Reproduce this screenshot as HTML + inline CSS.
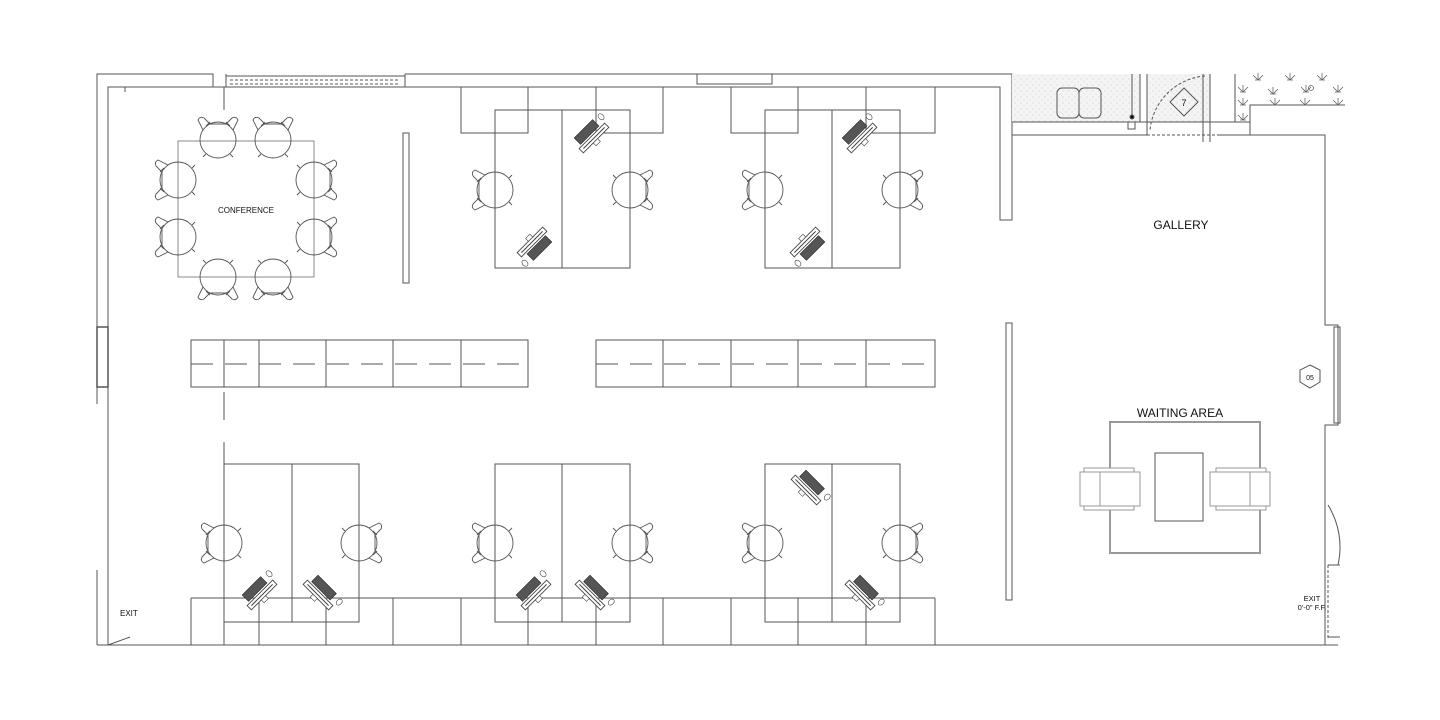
<!DOCTYPE html>
<html><head><meta charset="utf-8"><style>
html,body{margin:0;padding:0;background:#fff}
svg{display:block}
text{font-family:"Liberation Sans",sans-serif;fill:#111}
</style></head><body>
<svg width="1440" height="720" viewBox="0 0 1440 720" xmlns="http://www.w3.org/2000/svg">
<defs>
<pattern id="stip" width="6" height="6" patternUnits="userSpaceOnUse"><rect width="6" height="6" fill="#f4f4f4"/><circle cx="1" cy="1" r="0.5" fill="#bbb"/><circle cx="4" cy="4" r="0.5" fill="#ccc"/></pattern>
<g id="chair" fill="none" stroke="#555" stroke-width="0.9">
<circle cx="0" cy="0" r="18"/>
<path d="M-10,-15 L-20,-20 Q-24,-18 -22,-14 L-16,-8 L-16,8 L-22,14 Q-24,18 -20,20 L-10,15"/>
<path d="M-14,-12 l-4,4 M-14,12 l-4,-4 M14,-12 l3,-3 M14,12 l3,3"/>
</g>
<g id="comp">
<rect x="-18" y="-3" width="36" height="6" fill="#fff" stroke="#444" stroke-width="0.9"/>
<line x1="-15" y1="0" x2="15" y2="0" stroke="#444" stroke-width="1"/>
<rect x="-14" y="-14" width="26" height="9" fill="#555" stroke="#222" stroke-width="0.6"/>
<rect x="-4" y="3" width="6" height="4" fill="#fff" stroke="#444" stroke-width="0.6"/>
<ellipse cx="20" cy="-10" rx="2.5" ry="3.5" fill="#fff" stroke="#444" stroke-width="0.6"/>
</g>
<g id="sofa" fill="#fff" stroke="#999" stroke-width="1">
<rect x="0" y="0" width="60" height="34"/>
<line x1="20" y1="0" x2="20" y2="34"/>
<rect x="4" y="-4" width="50" height="4"/>
<rect x="4" y="34" width="50" height="4"/>
</g>
<path id="pl" d="M-5,-3 L0,2 L5,-3 M0,2 V-5 M-3,2 H3" fill="none" stroke="#666" stroke-width="0.8"/>
</defs>

<g fill="none" stroke="#555" stroke-width="1">
<polyline points="97,404 97,74 213,74 213,87"/>
<polyline points="108,645 108,87 1000,87 1000,220 1012,220 1012,74 405,74"/>
<line x1="226" y1="74" x2="226" y2="87"/>
<line x1="405" y1="74" x2="405" y2="87"/>
<line x1="226" y1="76" x2="405" y2="76"/>
<line x1="230" y1="80" x2="400" y2="80" stroke-dasharray="3,2"/>
<line x1="230" y1="84" x2="400" y2="84" stroke-dasharray="3,2"/>
<rect x="697" y="74" width="75" height="10"/>
<line x1="97" y1="74" x2="97" y2="404"/>
<rect x="97" y="327" width="11" height="60" stroke-width="1.5"/>
<line x1="97" y1="570" x2="97" y2="645"/>
<line x1="97" y1="645" x2="1338" y2="645"/>
<line x1="108" y1="645" x2="130" y2="637"/>
<line x1="224" y1="87" x2="224" y2="110"/>
<line x1="125" y1="87" x2="125" y2="92"/>

<rect x="1012" y="74" width="128" height="48" fill="url(#stip)" stroke="none"/>
<rect x="1147" y="74" width="63" height="48" fill="url(#stip)" stroke="none"/>
<line x1="1012" y1="122" x2="1250" y2="122"/>
<polyline points="1250,135 1250,105 1345,105"/>
<line x1="1012" y1="135" x2="1147" y2="135"/>
<line x1="1147" y1="135" x2="1218" y2="135" stroke-dasharray="3,2"/>
<line x1="1218" y1="135" x2="1250" y2="135"/>
<polyline points="1250,135 1325,135 1325,325 1338,325 1338,425 1325,425 1325,645"/>
<rect x="1334" y="327" width="6" height="96"/>
<line x1="1140" y1="74" x2="1140" y2="122"/>
<line x1="1147" y1="74" x2="1147" y2="135"/>
<line x1="1203" y1="74" x2="1203" y2="142"/>
<line x1="1210" y1="74" x2="1210" y2="142"/>
<line x1="1235" y1="74" x2="1235" y2="122"/>
<path d="M1205,76 A60,60 0 0 0 1150,130" stroke-dasharray="3,2"/>
<rect x="1057" y="88" width="22" height="30" rx="5"/>
<rect x="1079" y="88" width="22" height="30" rx="5"/>
<line x1="1132" y1="74" x2="1132" y2="118"/>
<circle cx="1132" cy="117" r="2" fill="#111"/>
<rect x="1128" y="122" width="7" height="7"/>
<polygon points="1184,88 1198,102 1184,116 1170,102"/>
<path d="M1328,505 A80,80 0 0 1 1338,565" />
<line x1="1328" y1="565" x2="1328" y2="640" stroke-dasharray="3,2"/>
<line x1="1328" y1="565" x2="1340" y2="565"/>
<line x1="1328" y1="637" x2="1340" y2="637"/>
<polygon points="1310,365 1320,370 1320,382 1310,388 1300,382 1300,370"/>
</g>
<use href="#pl" x="1258" y="78"/><use href="#pl" x="1290" y="78"/><use href="#pl" x="1322" y="78"/>
<use href="#pl" x="1243" y="90"/><use href="#pl" x="1273" y="92"/><use href="#pl" x="1306" y="90"/><use href="#pl" x="1338" y="90"/>
<use href="#pl" x="1243" y="103"/><use href="#pl" x="1275" y="103"/><use href="#pl" x="1305" y="103"/><use href="#pl" x="1338" y="103"/>
<use href="#pl" x="1243" y="118"/>
<circle cx="1311" cy="88" r="2.5" fill="none" stroke="#666" stroke-width="0.8"/>

<g fill="none" stroke="#555" stroke-width="1">
<rect x="403" y="133" width="6" height="150"/>
<rect x="1006" y="323" width="6" height="277"/>
<path d="M461,87V133H528V87 M528,110V87 M596,87V133H663V87 M731,87V133H798V87 M866,87V133H935V87"/>
<rect x="495" y="110" width="135" height="158"/><line x1="562" y1="110" x2="562" y2="268"/>
<rect x="765" y="110" width="135" height="158"/><line x1="832" y1="110" x2="832" y2="268"/>
<rect x="178" y="141" width="136" height="136" stroke="#888"/>
<rect x="191" y="340" width="337" height="47"/>
<path d="M224,340V387 M259,340V387 M326,340V387 M393,340V387 M461,340V387"/>
<rect x="596" y="340" width="339" height="47"/>
<path d="M663,340V387 M731,340V387 M798,340V387 M866,340V387"/>
<path d="M191,364H528 M596,364H935" stroke-dasharray="22,12"/>
<path d="M224,392V420 M224,442V464"/>
<rect x="224" y="464" width="135" height="158"/><line x1="292" y1="464" x2="292" y2="622"/>
<rect x="495" y="464" width="135" height="158"/><line x1="562" y1="464" x2="562" y2="622"/>
<rect x="765" y="464" width="135" height="158"/><line x1="832" y1="464" x2="832" y2="622"/>
<path d="M191,598H935 M191,598V645 M224,598V645 M259,598V645 M326,598V645 M393,598V645 M461,598V645 M528,598V645 M596,598V645 M663,598V645 M731,598V645 M798,598V645 M866,598V645 M935,598V645"/>
<rect x="1110" y="422" width="150" height="131" stroke="#999" stroke-width="2"/>
<rect x="1155" y="453" width="48" height="68"/>
</g>
<use href="#sofa" transform="translate(1080,472)"/>
<use href="#sofa" transform="translate(1270,506) rotate(180)"/>

<use href="#chair" transform="translate(218,140) rotate(90)"/>
<use href="#chair" transform="translate(273,140) rotate(90)"/>
<use href="#chair" transform="translate(218,277) rotate(-90)"/>
<use href="#chair" transform="translate(273,277) rotate(-90)"/>
<use href="#chair" transform="translate(178,180)"/>
<use href="#chair" transform="translate(178,237)"/>
<use href="#chair" transform="translate(314,180) rotate(180)"/>
<use href="#chair" transform="translate(314,237) rotate(180)"/>
<use href="#chair" transform="translate(495,190)"/>
<use href="#chair" transform="translate(630,190) rotate(180)"/>
<use href="#chair" transform="translate(765,190)"/>
<use href="#chair" transform="translate(900,190) rotate(180)"/>
<use href="#chair" transform="translate(224,543)"/>
<use href="#chair" transform="translate(359,543) rotate(180)"/>
<use href="#chair" transform="translate(495,543)"/>
<use href="#chair" transform="translate(630,543) rotate(180)"/>
<use href="#chair" transform="translate(765,543)"/>
<use href="#chair" transform="translate(900,543) rotate(180)"/>

<use href="#comp" transform="translate(594,138) rotate(-45)"/>
<use href="#comp" transform="translate(532,242) rotate(135)"/>
<use href="#comp" transform="translate(862,138) rotate(-45)"/>
<use href="#comp" transform="translate(805,242) rotate(135)"/>
<use href="#comp" transform="translate(262,595) rotate(-45)"/>
<use href="#comp" transform="translate(318,595) rotate(45)"/>
<use href="#comp" transform="translate(536,595) rotate(-45)"/>
<use href="#comp" transform="translate(590,595) rotate(45)"/>
<use href="#comp" transform="translate(806,490) rotate(45)"/>
<use href="#comp" transform="translate(860,595) rotate(45)"/>

<text x="246" y="213" font-size="8" text-anchor="middle">CONFERENCE</text>
<text x="1181" y="229" font-size="12" text-anchor="middle">GALLERY</text>
<text x="1180" y="417" font-size="12" text-anchor="middle">WAITING AREA</text>
<text x="1310" y="380" font-size="7" text-anchor="middle">05</text>
<text x="1184" y="106" font-size="9" text-anchor="middle">7</text>
<text x="120" y="616" font-size="8">EXIT</text>
<text x="1312" y="601" font-size="7.5" text-anchor="middle">EXIT</text>
<text x="1312" y="610" font-size="7.5" text-anchor="middle">0'-0" F.F.</text>
</svg>
</body></html>
